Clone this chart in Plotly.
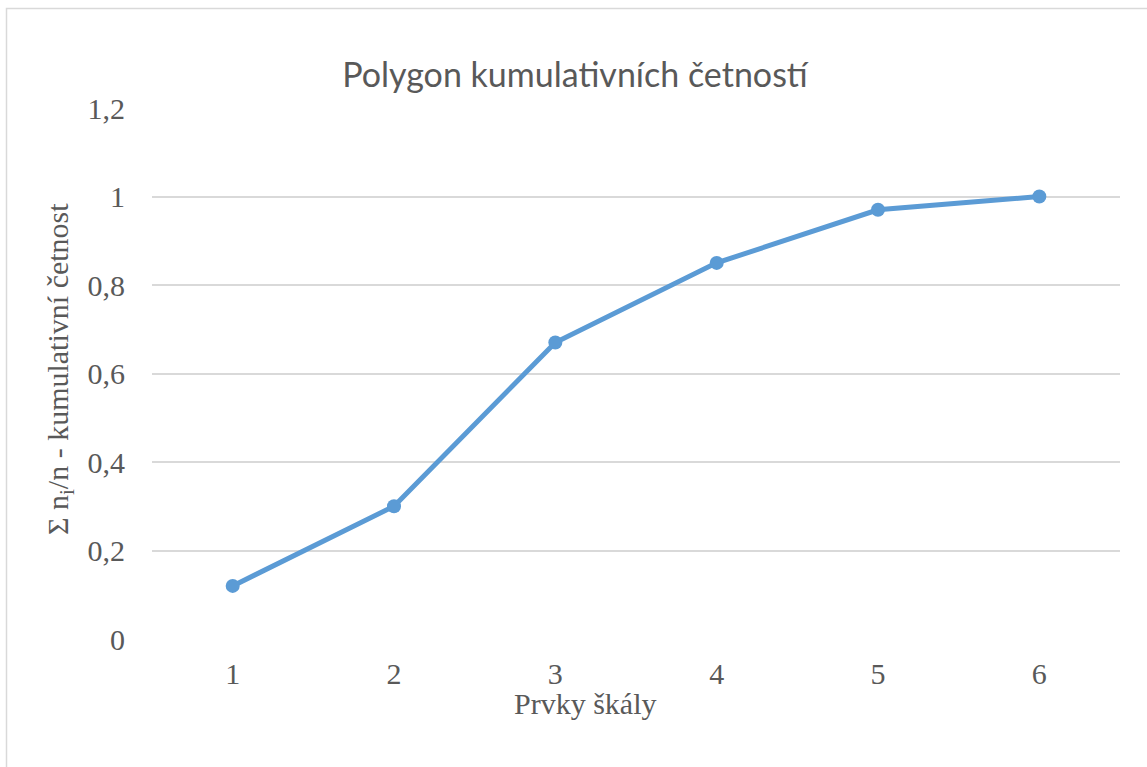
import plotly.graph_objects as go

categories = [1, 2, 3, 4, 5, 6]
cumulative = [0.12, 0.30, 0.67, 0.85, 0.97, 1.0]
y_ticks = [0, 0.2, 0.4, 0.6, 0.8, 1.0, 1.2]
y_tick_labels = ["0", "0,2", "0,4", "0,6", "0,8", "1", "1,2"]

title_text = "Polygon kumulativních četností"
x_title = "Prvky škály"
y_title = "Σ n<sub>i</sub>/n - kumulativní četnost"

W, H = 1147, 767
L, R, T, B = 152, 27, 108, 128
pw, ph = W - L - R, H - T - B

def px_x(x):
    return (x - L) / pw

def px_y(y):
    return (H - B - y) / ph

color = "#5B9BD5"
grey = "#595959"
serif = '"Times New Roman", "Liberation Serif", "DejaVu Serif", serif'

fig = go.Figure()
fig.add_trace(go.Scatter(
    x=categories, y=cumulative, mode="lines+markers",
    line=dict(color=color, width=5),
    marker=dict(color=color, size=14),
    cliponaxis=False, showlegend=False,
))

fig.update_layout(
    width=W, height=H,
    margin=dict(l=L, r=R, t=T, b=B, autoexpand=False),
    paper_bgcolor="white", plot_bgcolor="white",
    title=dict(text=title_text, x=575 / W, xref="container", xanchor="center",
               y=1 - 75 / H, yref="container", yanchor="middle",
               font=dict(family="Lato", size=34, color=grey)),
    xaxis=dict(range=[0.5, 6.5], tickvals=categories, ticktext=[str(c) for c in categories],
               showgrid=False, zeroline=False, showline=False, ticks="",
               ticklabelstandoff=14,
               tickfont=dict(family=serif, size=30, color=grey)),
    yaxis=dict(range=[0, 1.2], tickvals=y_ticks, ticktext=y_tick_labels,
               showgrid=True, gridcolor="#D9D9D9", gridwidth=1.5,
               zeroline=False, showline=False, ticks="",
               ticklabelstandoff=26,
               tickfont=dict(family=serif, size=30, color=grey)),
    font=dict(family=serif, color=grey),
)

fig.add_annotation(text=x_title, xref="paper", yref="paper",
                   x=px_x(585), y=px_y(703), xanchor="center", yanchor="middle",
                   showarrow=False, font=dict(family=serif, size=30, color=grey))
fig.add_annotation(text=y_title, xref="paper", yref="paper",
                   x=px_x(60), y=px_y(369), xanchor="center", yanchor="middle",
                   textangle=-90, showarrow=False,
                   font=dict(family=serif, size=30, color=grey))

fig.add_shape(type="rect", xref="paper", yref="paper",
              x0=px_x(6.5), x1=px_x(1300), y0=px_y(900), y1=px_y(8.5),
              line=dict(color="#D9D9D9", width=1.5), fillcolor="rgba(0,0,0,0)", layer="below")

fig.write_html("out.html", post_script="document.body.style.margin='0';",
               config={"displayModeBar": False})
